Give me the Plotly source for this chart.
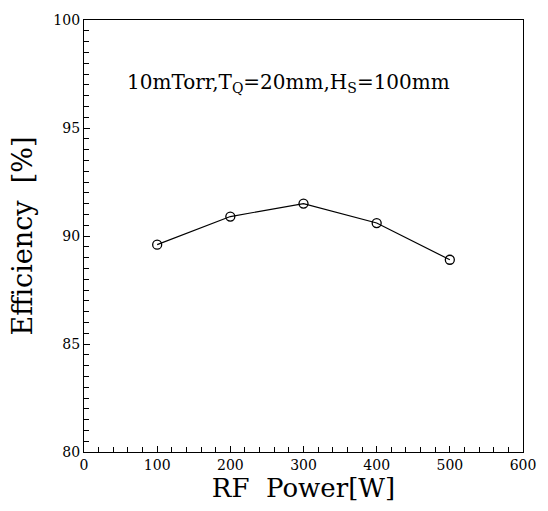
import plotly.graph_objects as go

# RF power sweep and measured efficiency
rf_power_w = [100, 200, 300, 400, 500]
efficiency_pct = [89.6, 90.9, 91.5, 90.6, 88.9]

x_ticks = [0, 100, 200, 300, 400, 500, 600]
y_ticks = [80, 85, 90, 95, 100]

serif = "DejaVu Serif, Liberation Serif, serif"

fig = go.Figure()
fig.add_trace(go.Scatter(
    x=rf_power_w,
    y=efficiency_pct,
    mode="lines+markers",
    line=dict(color="black", width=1.2),
    marker=dict(symbol="circle-open", size=9, color="black", line=dict(width=1.3)),
    showlegend=False,
))

axis_common = dict(
    showgrid=False,
    zeroline=False,
    showline=True,
    linecolor="black",
    linewidth=1.2,
    mirror=True,
    ticks="inside",
    ticklen=6,
    tickwidth=1,
    tickcolor="black",
    tickfont=dict(family=serif, size=14, color="black"),
)

fig.update_xaxes(
    range=[0, 600],
    tickvals=x_ticks,
    minor=dict(ticks="inside", dtick=20, ticklen=5, tickcolor="black", tickwidth=1),
    title=dict(text="RF  Power[W]", font=dict(family=serif, size=26, color="black"), standoff=1),
    **axis_common,
)
fig.update_yaxes(
    range=[80, 100],
    tickvals=y_ticks,
    minor=dict(ticks="inside", dtick=0.5, ticklen=5, tickcolor="black", tickwidth=1),
    title=dict(text="Efficiency  [%]", font=dict(family=serif, size=27, color="black"), standoff=12),
    **axis_common,
)

fig.add_annotation(
    x=0.465, y=0.89, xref="paper", yref="paper",
    text="10mTorr,T<sub>Q</sub>=20mm,H<sub>S</sub>=100mm",
    showarrow=False,
    font=dict(family=serif, size=20, color="black"),
)

fig.update_layout(
    width=548, height=511,
    margin=dict(l=84, r=25, t=14, b=59),
    paper_bgcolor="white",
    plot_bgcolor="white",
)

fig.write_html("out.html")
